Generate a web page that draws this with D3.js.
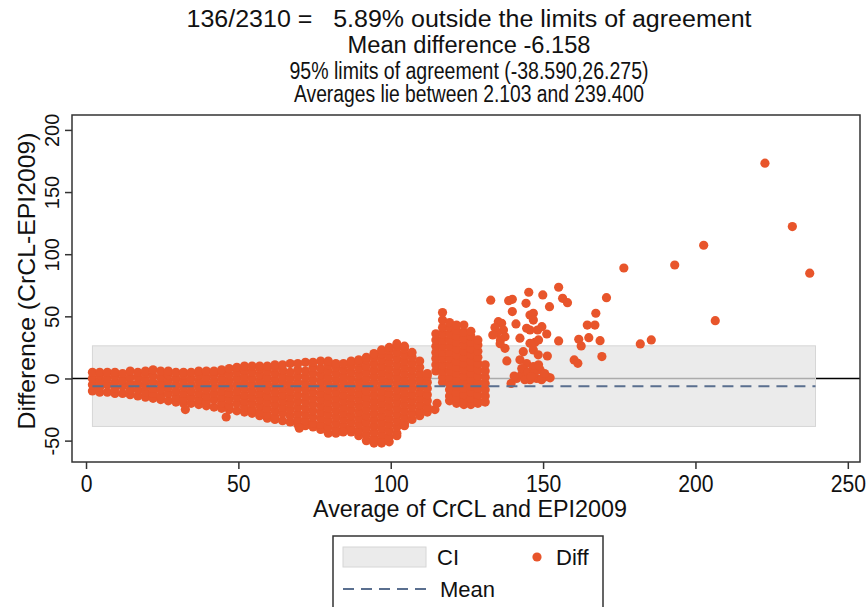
<!DOCTYPE html>
<html>
<head>
<meta charset="utf-8">
<script src="https://cdn.jsdelivr.net/npm/d3@7"></script>
<style>
  body { margin: 0; background: #fff; }
  text { font-family: "Liberation Sans", Arial, sans-serif; fill: #111; }
</style>
</head>
<body>
<svg id="chart" width="867" height="607"></svg>
<script>
// title lines
const titleLines = [
  "136/2310 =   5.89% outside the limits of agreement",
  "Mean difference -6.158",
  "95% limits of agreement (-38.590,26.275)",
  "Averages lie between 2.103 and 239.400"
];
const xTicks = [0, 50, 100, 150, 200, 250];
const yTicks = [-50, 0, 50, 100, 150, 200];

const meanDiff = -6.158;
const loa      = [-38.590, 26.275];
const avgRange = [2.103, 239.4];

// dense part of the cloud, read column by column: [average, [differences]]
const cloudCols = [
  [2.1,  [-10, -5, 0, 5]],
  [4.5,  [-11, -7, -2, 3, 5]],
  [7,    [-11, -5, 0, 5]],
  [9.5,  [-12, -8, -3, 2, 5]],
  [12,   [-12, -6, -1, 4]],
  [14.5, [-13, -9, -4, 1, 6]],
  [17,   [-14, -9, -4, 1, 5]],
  [19.5, [-15, -11, -6, -1, 4, 6]],
  [22,   [-16, -12, -8, -3, 2, 7]],
  [24.5, [-17, -14, -9, -4, 1, 6]],
  [27,   [-18, -12, -7, -2, 3, 6]],
  [29.5, [-19, -15, -10, -5, 0, 5]],
  [32,   [-20, -17, -12, -7, -2, 3, 5]],
  [34.5, [-20, -15, -10, -5, 0, 5]],
  [37,   [-21, -17, -12, -7, -2, 3, 6]],
  [39.5, [-22, -19, -14, -9, -4, 1, 6]],
  [42,   [-23, -17, -12, -7, -2, 3, 6]],
  [44.5, [-24, -20, -15, -10, -5, 0, 5, 7]],
  [47,   [-25, -22, -17, -12, -7, -2, 3, 8]],
  [49.5, [-26, -20, -15, -10, -5, 0, 5, 9]],
  [52,   [-27, -23, -18, -13, -8, -3, 2, 7, 10]],
  [54.5, [-28, -25, -20, -15, -10, -5, 0, 5, 10]],
  [57,   [-30, -27, -22, -17, -12, -7, -2, 3, 8, 10]],
  [59.5, [-32, -29, -24, -19, -14, -9, -4, 1, 6, 10]],
  [62,   [-33, -31, -26, -21, -16, -11, -6, -1, 4, 9, 11]],
  [64.5, [-34, -28, -23, -18, -13, -8, -3, 2, 7, 11]],
  [67,   [-35, -30, -25, -20, -15, -10, -5, 0, 5, 12]],
  [69.5, [-37, -33, -28, -23, -18, -13, -8, -3, 2, 7, 12]],
  [72,   [-38, -34, -29, -24, -19, -14, -9, -4, 1, 6, 13]],
  [74.5, [-39, -36, -31, -26, -21, -16, -11, -6, -1, 4, 9, 13]],
  [77,   [-41, -37, -32, -27, -22, -17, -12, -7, -2, 3, 8, 14]],
  [79.5, [-44, -39, -34, -29, -24, -19, -14, -9, -4, 1, 6, 11, 14]],
  [82,   [-44, -41, -36, -31, -26, -21, -16, -11, -6, -1, 4, 9, 12]],
  [84.5, [-42, -38, -33, -28, -23, -18, -13, -8, -3, 2, 7, 12]],
  [87,   [-43, -40, -35, -30, -25, -20, -15, -10, -5, 0, 5, 10, 14]],
  [89.5, [-46, -42, -37, -32, -27, -22, -17, -12, -7, -2, 3, 8, 13, 15]],
  [92,   [-50, -45, -40, -35, -30, -25, -20, -15, -10, -5, 0, 5, 10, 15, 17]],
  [94.5, [-52, -48, -43, -38, -33, -28, -23, -18, -13, -8, -3, 2, 7, 12, 17, 20]],
  [97,   [-52, -50, -45, -40, -35, -30, -25, -20, -15, -10, -5, 0, 5, 10, 15, 20, 23]],
  [99.5, [-51, -47, -42, -37, -32, -27, -22, -17, -12, -7, -2, 3, 8, 13, 18, 23, 25]],
  [102,  [-46, -44, -39, -34, -29, -24, -19, -14, -9, -4, 1, 6, 11, 16, 21, 26, 28]],
  [104.5,[-38, -36, -31, -26, -21, -16, -11, -6, -1, 4, 9, 14, 19, 24, 26]],
  [107,  [-33, -28, -23, -18, -13, -8, -3, 2, 7, 12, 17, 21]],
  [109.5,[-30, -26, -21, -16, -11, -6, -1, 4, 9, 14]],
  [112,  [-27, -23, -18, -13, -8, -3, 2, 4]],
  // second block, averages 115 to 131
  [114.8,[6, 11, 16, 21, 26, 31, 36]],
  [117,  [-3, 1, 6, 11, 16, 21, 26, 31, 36, 41, 47, 53]],
  [119.3,[-18, -14, -9, -4, 1, 6, 11, 16, 21, 26, 31, 36, 41, 45]],
  [121.6,[-20, -16, -11, -6, -1, 4, 9, 14, 19, 24, 29, 34, 39, 43]],
  [124,  [-21, -18, -13, -8, -3, 2, 7, 12, 17, 22, 27, 32, 37, 43]],
  [126.3,[-21, -16, -11, -6, -1, 4, 9, 14, 19, 24, 29, 34, 38]],
  [128.6,[-20, -18, -13, -8, -3, 2, 7, 12, 17, 22, 27, 31]],
  [131,  [-19, -14, -9, -4, 1, 6, 11]]
];

// loose points, read one by one: averages and differences
const looseAvg = [
  32.6, 46, 70, 84.4, 114.5, 115.2,
  141.3, 142.4, 142.9, 143.5, 144.6, 145.7, 146.8, 147.9, 149, 150.1,
  151.2, 152.3, 143, 145, 147, 149.5, 144, 148.5, 146, 150.5, 140.5, 139.5,
  132.8, 135.3, 136.4, 137, 134.8, 137.5, 137.5, 138.1, 134.2, 136, 133.5, 135.9,
  138.7, 139.9, 139.9, 141.1, 142.4, 143.5, 144.4, 144.6, 145.3, 145.7, 145.7,
  145.7, 146.8, 146.8, 146.8, 147.3, 148.2, 148.4, 148.5, 149.6, 149.9, 151.2,
  151.4, 152.1, 155.1, 155.1, 156.4, 158,
  160.2, 161.4, 161.7, 162.5, 164.5, 165, 167, 167.3, 168.7, 169.3, 170.8,
  176.5, 181.9, 185.5, 193.2, 202.7, 206.5, 222.8, 231.8, 237.5
];
const looseDiff = [
  -25, -31, -40, -43, -25, -20,
  0, 15, 3, 3, 12, -1, 9.5, 0, 7, 1,
  1.5, 0.5, 8, 5, 4, -1, -1, 11, 1.5, 4, 2, -4,
  63, 45.7, 44.4, 39, 36.4, 33.6, 24.3, 14.1, 41, 31, 35, 28,
  62.6, 63.7, 53.8, 43.9, 32.4, 21.6, 60.5, 40.4, 69.4, 39, 28.3,
  51, 52.5, 47, 23, 29, 39, 19, 31, 41.7, 67.2, 35.8,
  18.1, 57.8, 30.2, 73.4, 64.5, 61,
  14.9, 12.2, 31.5, 26.2, 43, 32.8, 43, 52.5, 30.4, 17.6, 65,
  88.9, 27.8, 31, 91.3, 107.2, 46.5, 173.2, 122.2, 84.7
];

const points = [];
cloudCols.forEach(([a, ds]) => ds.forEach(d => points.push({avg: a, diff: d})));
looseAvg.forEach((a, i) => points.push({avg: a, diff: looseDiff[i]}));

const svg = d3.select('#chart');
const plotL = 72, plotR = 860, plotT = 115, plotB = 462;

const xScale = d3.scaleLinear().domain([-4.6, 254]).range([plotL, plotR]);
const yScale = d3.scaleLinear().domain([-67.2, 212]).range([plotB, plotT]);

const dotColor = '#e8552b';

const titleBase  = [27, 53, 78.5, 102],
      titleWidth = [565, 243, 359, 350];

svg.selectAll('.title')
  .data(titleLines)
  .enter()
  .append('text')
  .attr('class', 'title')
  .attr('x', 469)
  .attr('y', (d, i) => titleBase[i])
  .attr('text-anchor', 'middle')
  .attr('textLength', (d, i) => titleWidth[i])
  .attr('lengthAdjust', 'spacingAndGlyphs')
  .style('font-size', '23px')
  .style('white-space', 'pre')
  .text(d => d);

// zero line, under the band
svg.append('line')
  .attr('x1', plotL).attr('x2', plotR)
  .attr('y1', yScale(0)).attr('y2', yScale(0))
  .attr('stroke', '#000').attr('stroke-width', 1.6);

svg.append('rect')
  .attr('x', xScale(avgRange[0]))
  .attr('width', xScale(avgRange[1]) - xScale(avgRange[0]))
  .attr('y', yScale(loa[1]))
  .attr('height', yScale(loa[0]) - yScale(loa[1]))
  .attr('fill', '#e4e4e4')
  .attr('fill-opacity', 0.75)
  .attr('stroke', '#d6d6d6')
  .attr('stroke-width', 1);

svg.append('g')
  .selectAll('circle')
  .data(points)
  .enter()
  .append('circle')
  .attr('cx', d => xScale(d.avg))
  .attr('cy', d => yScale(d.diff))
  .attr('r', 4.6)
  .attr('fill', dotColor);

svg.append('line')
  .attr('x1', xScale(avgRange[0])).attr('x2', xScale(avgRange[1]))
  .attr('y1', yScale(meanDiff)).attr('y2', yScale(meanDiff))
  .attr('stroke', '#5a6f8f').attr('stroke-width', 2)
  .attr('stroke-dasharray', '11,7');

// frame
svg.append('rect')
  .attr('x', plotL).attr('y', plotT)
  .attr('width', plotR - plotL).attr('height', plotB - plotT)
  .attr('fill', 'none').attr('stroke', '#333').attr('stroke-width', 1.5);

const xAxis = svg.append('g')
  .attr('transform', `translate(0,${plotB})`)
  .call(d3.axisBottom(xScale).tickValues(xTicks).tickFormat(d => String(d))
    .tickSize(7).tickSizeOuter(0));
xAxis.select('.domain').remove();
xAxis.selectAll('line').attr('stroke', '#333').attr('stroke-width', 1.5);
xAxis.selectAll('text')
  .attr('y', 30).attr('dy', 0)
  .attr('transform', 'scale(0.92,1)')
  .style('font-size', '23px').style('font-family', '"Liberation Sans", Arial, sans-serif')
  .attr('fill', '#111');

const yAxis = svg.append('g')
  .attr('transform', `translate(${plotL},0)`)
  .call(d3.axisLeft(yScale).tickValues(yTicks).tickFormat(d => String(d))
    .tickSize(7).tickSizeOuter(0));
yAxis.select('.domain').remove();
yAxis.selectAll('line').attr('stroke', '#333').attr('stroke-width', 1.5);
yAxis.selectAll('text')
  .attr('x', 0).attr('dy', 0)
  .attr('transform', 'translate(-13,0) rotate(-90)')
  .attr('text-anchor', 'middle')
  .style('font-size', '20px').style('font-family', '"Liberation Sans", Arial, sans-serif')
  .attr('fill', '#111');

svg.append('text')
  .attr('x', 470).attr('y', 517)
  .attr('text-anchor', 'middle')
  .attr('textLength', 314).attr('lengthAdjust', 'spacingAndGlyphs')
  .style('font-size', '23.5px')
  .text('Average of CrCL and EPI2009');

svg.append('text')
  .attr('transform', 'translate(35,281) rotate(-90)')
  .attr('text-anchor', 'middle')
  .attr('textLength', 297).attr('lengthAdjust', 'spacingAndGlyphs')
  .style('font-size', '24px')
  .text('Difference (CrCL-EPI2009)');

// legend
const lg = svg.append('g').attr('transform', 'translate(333,536)');
lg.append('path')
  .attr('d', 'M0,80 V0 H270 V80')
  .attr('fill', 'none').attr('stroke', '#333').attr('stroke-width', 1.5);
lg.append('rect')
  .attr('x', 10).attr('y', 11).attr('width', 83).attr('height', 20)
  .attr('fill', '#ebebeb').attr('stroke', '#d6d6d6');
lg.append('text').attr('x', 104).attr('y', 29).style('font-size', '22px').text('CI');
lg.append('circle').attr('cx', 204).attr('cy', 21).attr('r', 4.6).attr('fill', dotColor);
lg.append('text').attr('x', 223).attr('y', 29).style('font-size', '22px').text('Diff');
lg.append('line')
  .attr('x1', 10).attr('x2', 93).attr('y1', 53).attr('y2', 53)
  .attr('stroke', '#5a6f8f').attr('stroke-width', 2).attr('stroke-dasharray', '11,7');
lg.append('text').attr('x', 107).attr('y', 61).style('font-size', '22px').text('Mean');
</script>
</body>
</html>
